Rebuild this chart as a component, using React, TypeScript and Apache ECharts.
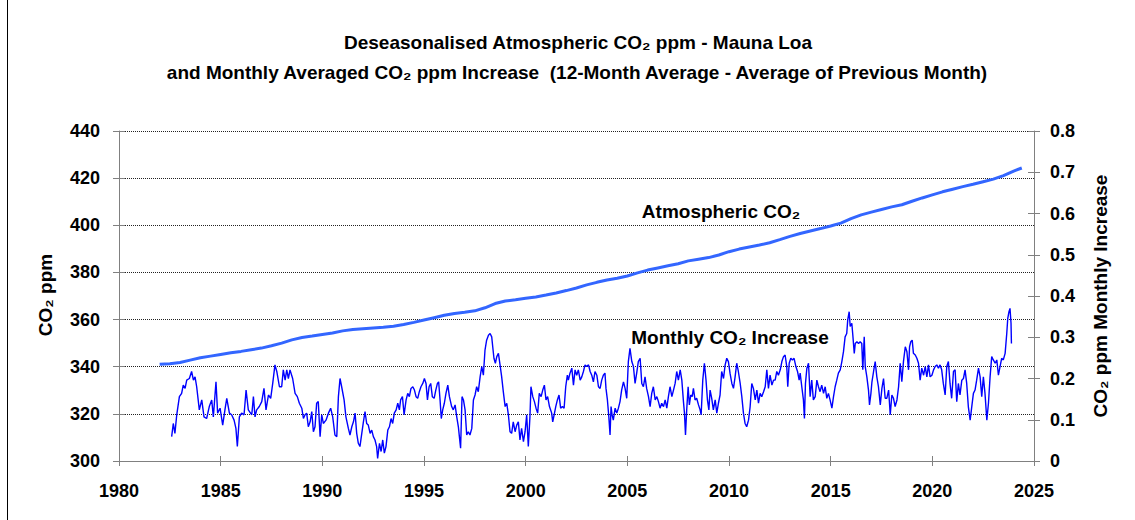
import React, { useEffect, useRef } from "react";
import * as echarts from "echarts";

const FONT = '"Liberation Sans", Arial, sans-serif';

// Deseasonalised atmospheric CO2 (ppm)
const co2Years = [
  1982.0, 1982.5, 1983.0, 1983.5, 1984.0, 1984.5, 1985.0, 1985.5, 1986.0, 1986.5,
  1987.0, 1987.5, 1988.0, 1988.5, 1989.0, 1989.5, 1990.0, 1990.5, 1991.0, 1991.5,
  1992.0, 1992.5, 1993.0, 1993.5, 1994.0, 1994.5, 1995.0, 1995.5, 1996.0, 1996.5,
  1997.0, 1997.5, 1998.0, 1998.5, 1999.0, 1999.5, 2000.0, 2000.5, 2001.0, 2001.5,
  2002.0, 2002.5, 2003.0, 2003.5, 2004.0, 2004.5, 2005.0, 2005.5, 2006.0, 2006.5,
  2007.0, 2007.5, 2008.0, 2008.5, 2009.0, 2009.5, 2010.0, 2010.5, 2011.0, 2011.5,
  2012.0, 2012.5, 2013.0, 2013.5, 2014.0, 2014.5, 2015.0, 2015.5, 2016.0, 2016.5,
  2017.0, 2017.5, 2018.0, 2018.5, 2019.0, 2019.5, 2020.0, 2020.5, 2021.0, 2021.5,
  2022.0, 2022.5, 2023.0, 2023.5, 2024.0, 2024.4,
];
const co2Values = [
  341.0, 341.3, 341.8, 342.8, 343.8, 344.5, 345.2, 345.9, 346.5, 347.2,
  347.9, 348.9, 350.0, 351.4, 352.4, 353.0, 353.7, 354.3, 355.2, 355.8,
  356.1, 356.4, 356.7, 357.2, 357.9, 358.8, 359.8, 360.8, 361.8, 362.6,
  363.1, 363.7, 365.0, 366.8, 367.9, 368.4, 369.0, 369.6, 370.4, 371.3,
  372.3, 373.4, 374.7, 375.8, 376.8, 377.5, 378.5, 379.8, 381.0, 381.9,
  382.8, 383.7, 384.9, 385.6, 386.3, 387.4, 388.8, 389.9, 390.8, 391.6,
  392.6, 393.9, 395.3, 396.5, 397.6, 398.6, 399.7, 400.9, 402.8, 404.4,
  405.6, 406.7, 407.8, 408.7, 410.2, 411.6, 412.9, 414.2, 415.3, 416.4,
  417.4, 418.5, 419.6, 421.1, 423.0, 424.3,
];

// Monthly averaged CO2 increase (ppm), [decimal year, value]
const increase1982to1986: [number, number][] = [
  [1982.59, .059], [1982.67, .091], [1982.75, .067], [1982.84, .112], [1982.97, .156], [1983.08, .164],
  [1983.16, .184], [1983.25, .176], [1983.33, .196], [1983.46, .200], [1983.57, .217], [1983.66, .196],
  [1983.74, .204], [1983.82, .180], [1983.95, .124], [1984.07, .148], [1984.18, .107], [1984.31, .103],
  [1984.44, .132], [1984.56, .148], [1984.64, .107], [1984.77, .192], [1984.85, .116], [1984.97, .128],
  [1985.10, .087], [1985.21, .124], [1985.30, .152], [1985.43, .116], [1985.54, .112], [1985.66, .099],
  [1985.75, .079], [1985.82, .035], [1985.92, .107], [1986.03, .116], [1986.15, .112], [1986.25, .172],
  [1986.36, .124],
];
const increase1986to1991: [number, number][] = [
  [1986.53, .112], [1986.61, .156], [1986.69, .107], [1986.77, .124], [1986.90, .132], [1987.02, .144],
  [1987.13, .176], [1987.23, .124], [1987.35, .160], [1987.46, .152], [1987.56, .188], [1987.67, .233],
  [1987.76, .217], [1987.89, .180], [1988.00, .180], [1988.08, .221], [1988.17, .196], [1988.25, .221],
  [1988.33, .200], [1988.41, .221], [1988.54, .200], [1988.66, .164], [1988.77, .156], [1988.87, .140],
  [1988.99, .128], [1989.07, .103], [1989.15, .112], [1989.23, .116], [1989.31, .083], [1989.40, .095],
  [1989.48, .120], [1989.56, .071], [1989.64, .083], [1989.72, .140], [1989.80, .144], [1989.89, .059],
  [1989.97, .112], [1990.05, .091], [1990.18, .099], [1990.30, .116], [1990.41, .128], [1990.51, .107],
  [1990.62, .063], [1990.71, .059], [1990.79, .156], [1990.87, .200], [1990.95, .180], [1991.07, .148],
  [1991.16, .107], [1991.28, .079],
];
const increase1991to1996: [number, number][] = [
  [1991.36, .063], [1991.45, .083], [1991.53, .095], [1991.61, .116], [1991.69, .067], [1991.77, .043],
  [1991.85, .035], [1991.94, .067], [1992.02, .095], [1992.10, .120], [1992.18, .091], [1992.26, .087],
  [1992.35, .067], [1992.43, .075], [1992.51, .059], [1992.59, .051], [1992.67, .035], [1992.72, .006],
  [1992.81, .043], [1992.89, .023], [1992.97, .051], [1993.05, .019], [1993.13, .035], [1993.22, .075],
  [1993.30, .083], [1993.38, .103], [1993.46, .091], [1993.54, .116], [1993.63, .124], [1993.71, .140],
  [1993.79, .124], [1993.85, .148], [1993.94, .156], [1994.02, .112], [1994.12, .148], [1994.20, .164],
  [1994.28, .156], [1994.36, .176], [1994.45, .180], [1994.53, .172], [1994.61, .156], [1994.69, .152],
  [1994.77, .168], [1994.85, .180], [1994.94, .188], [1995.02, .200], [1995.10, .188], [1995.17, .148],
  [1995.25, .180], [1995.33, .188], [1995.41, .156], [1995.50, .152], [1995.58, .172], [1995.66, .188],
  [1995.72, .192], [1995.79, .148], [1995.85, .103], [1995.92, .124], [1996.00, .140], [1996.08, .164],
  [1996.17, .184], [1996.25, .156],
];
const increase1996to2001: [number, number][] = [
  [1996.36, .132], [1996.44, .124], [1996.53, .136], [1996.61, .107], [1996.69, .083], [1996.74, .059],
  [1996.80, .031], [1996.87, .156], [1996.94, .148], [1997.02, .124], [1997.10, .063], [1997.18, .071],
  [1997.26, .063], [1997.35, .079], [1997.43, .148], [1997.51, .160], [1997.59, .180], [1997.67, .168],
  [1997.76, .204], [1997.84, .229], [1997.92, .208], [1998.00, .269], [1998.08, .293], [1998.17, .305],
  [1998.25, .309], [1998.33, .301], [1998.38, .277], [1998.44, .249], [1998.51, .237], [1998.58, .253],
  [1998.66, .261], [1998.74, .233], [1998.82, .204], [1998.90, .168], [1998.99, .132], [1999.07, .140],
  [1999.15, .112], [1999.23, .071], [1999.31, .067], [1999.39, .095], [1999.48, .071], [1999.56, .087],
  [1999.64, .095], [1999.72, .051], [1999.80, .079], [1999.89, .047], [1999.97, .071], [2000.05, .112],
  [2000.13, .035], [2000.21, .107], [2000.26, .180], [2000.35, .156], [2000.43, .144], [2000.51, .128],
  [2000.59, .116], [2000.67, .164], [2000.76, .156], [2000.84, .172], [2000.92, .184], [2001.00, .148],
  [2001.08, .156], [2001.17, .132],
];
const increase2001to2006: [number, number][] = [
  [2001.28, .116], [2001.33, .095], [2001.40, .112], [2001.48, .132], [2001.56, .148], [2001.64, .160],
  [2001.72, .128], [2001.81, .132], [2001.89, .128], [2001.97, .180], [2002.05, .208], [2002.10, .196],
  [2002.18, .213], [2002.27, .225], [2002.35, .184], [2002.43, .221], [2002.51, .208], [2002.59, .221],
  [2002.68, .196], [2002.76, .204], [2002.84, .217], [2002.92, .233], [2003.00, .229], [2003.09, .233],
  [2003.17, .217], [2003.25, .208], [2003.33, .192], [2003.41, .217], [2003.50, .208], [2003.58, .180],
  [2003.66, .176], [2003.74, .196], [2003.82, .208], [2003.90, .213], [2003.95, .176], [2004.02, .148],
  [2004.09, .107], [2004.15, .063], [2004.20, .132], [2004.25, .112], [2004.31, .099], [2004.40, .128],
  [2004.48, .116], [2004.56, .128], [2004.64, .144], [2004.72, .172], [2004.81, .192], [2004.89, .176],
  [2004.97, .152], [2005.05, .241], [2005.13, .273], [2005.22, .241], [2005.30, .229], [2005.38, .188],
  [2005.46, .213], [2005.54, .241], [2005.63, .249], [2005.71, .188], [2005.79, .180], [2005.87, .204],
  [2005.95, .176], [2006.04, .156], [2006.12, .132],
];
const increase2006to2011: [number, number][] = [
  [2006.20, .164], [2006.28, .180], [2006.37, .148], [2006.45, .156], [2006.53, .144], [2006.61, .128],
  [2006.69, .140], [2006.78, .132], [2006.86, .148], [2006.94, .128], [2007.02, .156], [2007.10, .180],
  [2007.19, .156], [2007.27, .172], [2007.35, .188], [2007.43, .217], [2007.51, .196], [2007.60, .221],
  [2007.68, .196], [2007.76, .144], [2007.81, .116], [2007.86, .063], [2007.92, .124], [2007.99, .180],
  [2008.05, .136], [2008.12, .160], [2008.19, .156], [2008.25, .176], [2008.33, .148], [2008.41, .152],
  [2008.50, .136], [2008.58, .124], [2008.63, .112], [2008.71, .196], [2008.79, .237], [2008.87, .196],
  [2008.94, .148], [2009.01, .124], [2009.07, .172], [2009.15, .152], [2009.23, .124], [2009.32, .148],
  [2009.40, .116], [2009.48, .140], [2009.56, .160], [2009.64, .217], [2009.73, .200], [2009.81, .233],
  [2009.89, .249], [2009.97, .241], [2010.05, .213], [2010.14, .188], [2010.22, .176], [2010.30, .204],
  [2010.38, .237], [2010.46, .217], [2010.55, .188], [2010.63, .156], [2010.71, .116], [2010.79, .091],
  [2010.87, .083], [2010.96, .099], [2011.04, .132],
];
const increase2011to2016: [number, number][] = [
  [2011.12, .188], [2011.20, .176], [2011.29, .148], [2011.37, .172], [2011.45, .140], [2011.53, .164],
  [2011.61, .156], [2011.70, .168], [2011.78, .180], [2011.86, .221], [2011.94, .176], [2012.02, .208],
  [2012.11, .184], [2012.19, .196], [2012.27, .196], [2012.35, .217], [2012.43, .208], [2012.52, .221],
  [2012.60, .241], [2012.68, .253], [2012.76, .257], [2012.84, .229], [2012.89, .180], [2012.96, .237],
  [2013.04, .249], [2013.12, .245], [2013.20, .249], [2013.29, .229], [2013.37, .217], [2013.45, .196],
  [2013.50, .213], [2013.58, .180], [2013.66, .148], [2013.71, .103], [2013.76, .188], [2013.83, .225],
  [2013.91, .237], [2013.99, .156], [2014.07, .196], [2014.15, .148], [2014.24, .156], [2014.32, .196],
  [2014.40, .180], [2014.48, .168], [2014.56, .184], [2014.65, .164], [2014.73, .180], [2014.81, .152],
  [2014.89, .164], [2014.97, .148], [2015.06, .128], [2015.14, .156], [2015.22, .180], [2015.30, .196],
  [2015.38, .213], [2015.47, .221], [2015.55, .241], [2015.63, .265], [2015.71, .301], [2015.79, .309],
  [2015.84, .342], [2015.91, .362], [2015.96, .326],
];
const increase2016to2020: [number, number][] = [
  [2016.04, .334], [2016.09, .305], [2016.16, .261], [2016.21, .285], [2016.29, .289], [2016.37, .285],
  [2016.45, .289], [2016.53, .285], [2016.58, .221], [2016.65, .301], [2016.70, .229], [2016.78, .204],
  [2016.86, .172], [2016.91, .136], [2016.98, .164], [2017.03, .192], [2017.11, .217], [2017.19, .241],
  [2017.27, .204], [2017.35, .180], [2017.44, .136], [2017.52, .176], [2017.60, .200], [2017.68, .152],
  [2017.76, .152], [2017.85, .172], [2017.93, .112], [2018.01, .160], [2018.09, .152], [2018.17, .132],
  [2018.26, .148], [2018.34, .180], [2018.42, .237], [2018.50, .192], [2018.58, .241], [2018.67, .277],
  [2018.75, .265], [2018.83, .221], [2018.88, .277], [2018.94, .289], [2019.01, .293], [2019.07, .261],
  [2019.16, .257], [2019.24, .249], [2019.32, .237], [2019.40, .196], [2019.48, .225], [2019.57, .208],
  [2019.65, .229], [2019.73, .204], [2019.81, .233], [2019.89, .204], [2019.98, .208], [2020.06, .221],
  [2020.14, .229], [2020.22, .233], [2020.30, .225],
];
const increase2020to2024: [number, number][] = [
  [2020.38, .233], [2020.46, .221], [2020.54, .188], [2020.63, .160], [2020.71, .229], [2020.79, .241],
  [2020.87, .188], [2020.95, .152], [2021.04, .217], [2021.12, .221], [2021.20, .144], [2021.28, .188],
  [2021.36, .160], [2021.45, .196], [2021.53, .200], [2021.61, .221], [2021.69, .188], [2021.77, .132],
  [2021.86, .099], [2021.94, .132], [2022.02, .164], [2022.10, .172], [2022.18, .196], [2022.27, .225],
  [2022.35, .204], [2022.43, .156], [2022.51, .204], [2022.59, .164], [2022.68, .099], [2022.76, .140],
  [2022.84, .204], [2022.92, .253], [2023.00, .245], [2023.09, .237], [2023.17, .245], [2023.25, .208],
  [2023.33, .229], [2023.41, .249], [2023.49, .245], [2023.58, .261], [2023.66, .309], [2023.71, .346],
  [2023.77, .362], [2023.82, .370], [2023.87, .334], [2023.89, .285],
];

const leftTickLabels = ["300", "320", "340", "360", "380", "400", "420", "440"];
const rightTickLabels = ["0", "0.1", "0.2", "0.3", "0.4", "0.5", "0.6", "0.7", "0.8"];
const xTickLabels = ["1980", "1985", "1990", "1995", "2000", "2005", "2010", "2015", "2020", "2025"];

const titleLine1 = "Deseasonalised Atmospheric CO₂ ppm - Mauna Loa";
const titleLine2 = "and Monthly Averaged CO₂ ppm Increase  (12-Month Average - Average of Previous Month)";
const co2Label = "Atmospheric CO₂";
const increaseLabel = "Monthly CO₂ Increase";
const leftAxisName = "CO₂ ppm";
const rightAxisName = "CO₂ ppm Monthly Increase";

export default function App() {
  const ref = useRef<HTMLDivElement>(null);

  useEffect(() => {
    if (!ref.current) return;
    const chart = echarts.init(ref.current, undefined, { renderer: "svg" });

    const co2Data = co2Years.map((y, i) => [y, co2Values[i]]);
    const incData = [
      ...increase1982to1986,
      ...increase1986to1991,
      ...increase1991to1996,
      ...increase1996to2001,
      ...increase2001to2006,
      ...increase2006to2011,
      ...increase2011to2016,
      ...increase2016to2020,
      ...increase2020to2024,
    ];

    const tickFont = { color: "#000", fontWeight: "bold" as const, fontSize: 18, fontFamily: FONT };
    const axisGray = "#808080";
    const labelByValue = (labels: string[], min: number, step: number) => (v: number) => {
      const idx = Math.round((v - min) / step);
      return labels[idx] ?? "";
    };

    const option: echarts.EChartsOption = {
      animation: false,
      backgroundColor: "#ffffff",
      grid: { left: 119, right: 101, top: 131, bottom: 59 },
      xAxis: [
        {
          type: "value",
          min: 1980,
          max: 2025,
          interval: 5,
          axisLine: { show: true, lineStyle: { color: axisGray, width: 1 } },
          axisTick: { show: true, length: 5, lineStyle: { color: axisGray } },
          axisLabel: { ...tickFont, margin: 21, formatter: labelByValue(xTickLabels, 1980, 5) },
          splitLine: { show: false },
        },
        {
          type: "value",
          min: 1980,
          max: 2025,
          interval: 5,
          position: "bottom",
          axisLine: { show: false },
          axisTick: { show: true, inside: true, length: 5, lineStyle: { color: axisGray } },
          axisLabel: { show: false },
          splitLine: { show: false },
        },
      ],
      yAxis: [
        {
          type: "value",
          min: 300,
          max: 440,
          interval: 20,
          position: "left",
          axisLine: { show: true, lineStyle: { color: axisGray, width: 1 } },
          axisTick: { show: true, length: 6, lineStyle: { color: axisGray } },
          axisLabel: { ...tickFont, margin: 19, formatter: labelByValue(leftTickLabels, 300, 20) },
          splitLine: { show: true, lineStyle: { color: "#222", width: 1, type: [1, 1] } },
        },
        {
          type: "value",
          min: 0,
          max: 0.8,
          interval: 0.1,
          position: "right",
          axisLine: { show: true, lineStyle: { color: axisGray, width: 1 } },
          axisTick: { show: true, length: 6, lineStyle: { color: axisGray } },
          axisLabel: { ...tickFont, margin: 16, formatter: labelByValue(rightTickLabels, 0, 0.1) },
          splitLine: { show: false },
        },
        {
          type: "value",
          min: 300,
          max: 440,
          interval: 20,
          position: "left",
          axisLine: { show: false },
          axisTick: { show: true, inside: true, length: 6, lineStyle: { color: axisGray } },
          axisLabel: { show: false },
          splitLine: { show: false },
        },
        {
          type: "value",
          min: 0,
          max: 0.8,
          interval: 0.1,
          position: "right",
          axisLine: { show: false },
          axisTick: { show: true, inside: true, length: 6, lineStyle: { color: axisGray } },
          axisLabel: { show: false },
          splitLine: { show: false },
        },
      ],
      series: [
        {
          name: "Atmospheric CO2",
          type: "line",
          xAxisIndex: 0,
          yAxisIndex: 0,
          data: co2Data,
          showSymbol: false,
          symbol: "none",
          lineStyle: { color: "#3366ff", width: 3 },
          z: 3,
        },
        {
          name: "Monthly CO2 Increase",
          type: "line",
          xAxisIndex: 0,
          yAxisIndex: 1,
          data: incData,
          showSymbol: false,
          symbol: "none",
          lineStyle: { color: "#0000ff", width: 1.4 },
          z: 4,
        },
      ],
      graphic: [
        {
          type: "line",
          shape: { x1: 7.5, y1: 0, x2: 7.5, y2: 520 },
          style: { stroke: "#000", lineWidth: 1 },
          silent: true,
        },
        {
          type: "text",
          x: 578,
          y: 42,
          style: { text: titleLine1, fill: "#000", fontSize: 19, fontWeight: "bold", fontFamily: FONT, align: "center", verticalAlign: "middle" },
        },
        {
          type: "text",
          x: 577,
          y: 72,
          style: { text: titleLine2, fill: "#000", fontSize: 19, fontWeight: "bold", fontFamily: FONT, align: "center", verticalAlign: "middle" },
        },
        {
          type: "text",
          x: 721,
          y: 211,
          style: { text: co2Label, fill: "#000", fontSize: 19, fontWeight: "bold", fontFamily: FONT, align: "center", verticalAlign: "middle" },
        },
        {
          type: "text",
          x: 730,
          y: 337,
          style: { text: increaseLabel, fill: "#000", fontSize: 19, fontWeight: "bold", fontFamily: FONT, align: "center", verticalAlign: "middle" },
        },
        {
          type: "text",
          x: 45,
          y: 295,
          rotation: Math.PI / 2,
          style: { text: leftAxisName, fill: "#000", fontSize: 19, fontWeight: "bold", fontFamily: FONT, align: "center", verticalAlign: "middle" },
        },
        {
          type: "text",
          x: 1100,
          y: 296,
          rotation: Math.PI / 2,
          style: { text: rightAxisName, fill: "#000", fontSize: 19, fontWeight: "bold", fontFamily: FONT, align: "center", verticalAlign: "middle" },
        },
      ],
    };

    chart.setOption(option);
    return () => chart.dispose();
  }, []);

  return (
    <div
      ref={ref}
      style={{ position: "absolute", left: 0, top: 0, width: 1135, height: 520, background: "#fff" }}
    />
  );
}
